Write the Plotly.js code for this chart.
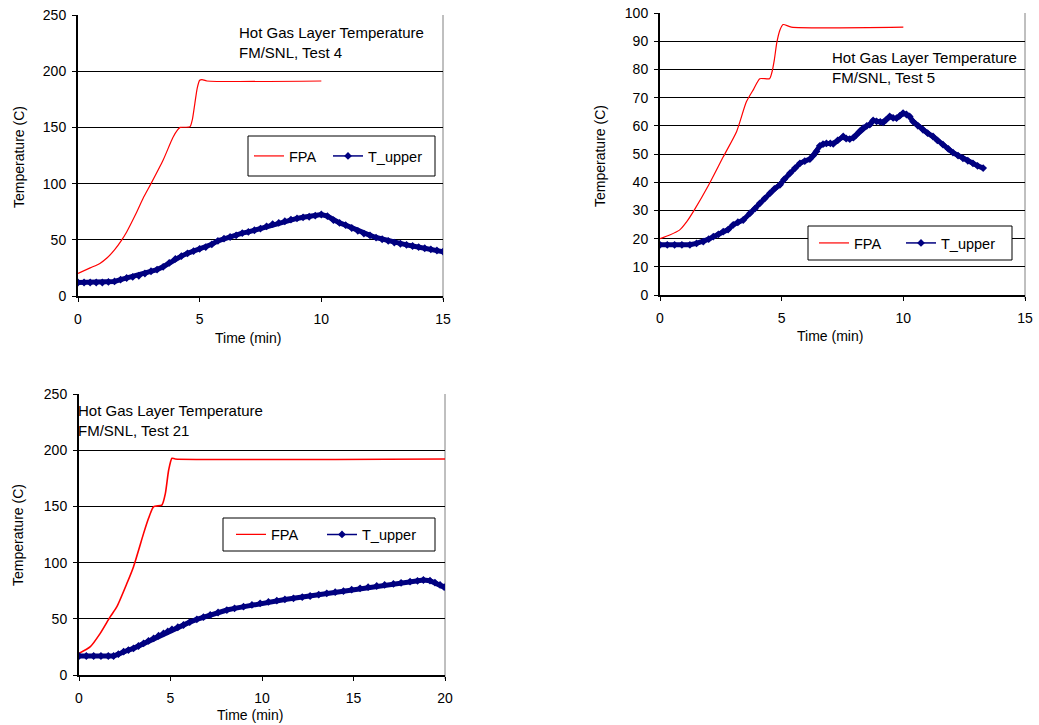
<!DOCTYPE html>
<html>
<head>
<meta charset="utf-8">
<script src="https://cdn.plot.ly/plotly-3.0.1.min.js"></script>
<style>html,body{margin:0;padding:0;background:#fff}#chart{width:1039px;height:725px}</style>
</head>
<body>
<div id="chart"></div>
<script>
// ---------- Data ----------
// Test 4
const t4_fpa = [0,0.5,0.9,1.2,1.5,1.8,2.0,2.4,2.7,3.0,3.5,3.9,4.1,4.2,4.6,4.7,4.8,4.9,5.0,5.1,5.3,10];
const T4_fpa = [20,25,29,34,41,50,57,74,88,100,121,141,148,150,150.5,157,171,185,192,192.5,191.3,191.3];
const t4_up = [0,0.25,0.5,0.75,1,1.25,1.5,1.75,2,2.25,2.5,2.75,3,3.25,3.5,3.75,4,4.25,4.5,4.75,5,5.25,5.5,5.75,6,6.25,6.5,6.75,7,7.25,7.5,7.75,8,8.25,8.5,8.75,9,9.25,9.5,9.75,10,10.25,10.5,10.75,11,11.25,11.5,11.75,12,12.25,12.5,12.75,13,13.25,13.5,13.75,14,14.25,14.5,14.75,15,15.1];
const T4_up = [12,12,12,12,12,12.5,13,14.5,16,17,18,20,22,23.5,26,29.5,33,35.5,38,40,42,43.5,46,49,51,52.5,54,56,57,58.5,60,62,64,65,66.5,68,69,70,70.5,71.5,72.5,71,67.5,65,63,60.5,58,55.5,54,52,50.5,49,47.5,46.5,45.5,44.5,43.5,42.5,41.5,40.5,39.5,39];
// Test 5
const t5_fpa = [0,0.4,0.8,1.1,1.4,2.0,2.6,3.15,3.55,3.85,4.1,4.5,4.6,4.7,4.8,4.93,5.06,5.4,10];
const T5_fpa = [20,21.3,23,26,30,39,49,58,68.5,73,76.7,76.7,79,83.5,89.5,94,95.9,95,95];
const t5_up = [0,0.3,0.6,0.9,1.23,1.5,1.78,2.0,2.19,2.4,2.6,2.8,3.01,3.2,3.42,3.7,3.9,4.1,4.3,4.52,4.7,4.93,5.1,5.34,5.55,5.75,5.95,6.16,6.3,6.43,6.57,6.7,6.84,7.0,7.12,7.3,7.53,7.65,7.8,7.95,8.07,8.2,8.35,8.5,8.62,8.76,8.9,9.05,9.17,9.3,9.44,9.58,9.72,9.85,9.99,10.13,10.26,10.4,10.6,10.81,11.0,11.22,11.4,11.63,11.85,12.04,12.25,12.45,12.65,12.86,13.05,13.28];
const T5_up = [17.8,17.8,17.8,17.8,17.8,18.3,18.9,19.8,20.7,21.5,22.5,23.2,24.9,25.8,26.6,29,30.6,32.5,34.2,36.1,37.6,39.1,41,43.2,45,46.7,47.5,48.2,49.5,50.9,52.9,53.5,53.8,53.8,53.6,54.8,56.2,55.5,55.3,55.8,56.8,58,59.2,60,60.4,61.9,61.6,61.4,61.2,62.2,63.3,62.8,62.7,63.5,64.5,64,63.3,61.5,60,58.6,57.4,56.2,54.8,53.3,51.8,50.5,49.4,48.5,47.6,46.7,45.8,45];
// Test 21
const t21_fpa = [0,0.62,1.16,1.71,2.07,2.62,2.98,3.53,3.8,4.08,4.53,4.72,4.9,5.08,5.26,20];
const T21_fpa = [19.3,25.2,37,51.9,60.8,81.6,96.4,126,139.4,149.8,151.2,161.6,182.4,192.8,192.2,192.2];
const t21_up = [0,0.4,0.8,1.2,1.6,1.89,2.15,2.44,2.7,2.98,3.25,3.53,3.8,4.08,4.35,4.62,4.85,5.08,5.4,5.71,6.05,6.44,6.8,7.17,7.6,8.08,8.5,8.99,9.45,9.9,10.35,10.81,11.25,11.72,12.2,12.63,13.1,13.54,14.0,14.45,14.9,15.36,15.8,16.27,16.7,17.18,17.6,18.09,18.5,18.82,19.18,19.45,19.73,19.95,20.18];
const T21_up = [16.9,16.9,16.9,16.9,16.9,16.9,18.5,20.8,22.2,23.7,25.8,28.2,30.4,32.6,34.9,37.1,38.8,40.6,42.5,44.5,47,49.5,51.5,53.4,55.6,57.8,59.3,60.8,62.3,63.8,65,66.1,67.2,68.2,69.3,70.3,71.5,72.7,73.7,74.7,75.9,77.1,78.1,79.2,80.1,81,82,83,83.8,84.5,83.9,82.2,80.1,78.2,76.2];

const seriesNames = ['FPA','T_upper'];
const xTitle = 'Time (min)';
const yTitle = 'Temperature (C)';
const chartTitles = ['Hot Gas Layer Temperature<br>FM/SNL, Test 4','Hot Gas Layer Temperature<br>FM/SNL, Test 5','Hot Gas Layer Temperature<br>FM/SNL, Test 21'];

// ---------- Styling ----------
const FONT = 'Liberation Sans, Arial, sans-serif';
const RED = '#ff0000', NAVY = '#000080';
const W = 1039, H = 725;
const px = v => v / W, py = v => 1 - v / H;

const panels = [
  {xd:[78,443], yd:[15,296], xr:[0,15], yr:[0,250], dy:50, t_f:t4_fpa, y_f:T4_fpa, t_u:t4_up, y_u:T4_up, leg:[248,435,136,176], legx:[249,328], title:[237,42.5], yt:[18.5,157.5], xt:[248,338]},
  {xd:[660,1025], yd:[13,295], xr:[0,15], yr:[0,100], dy:10, t_f:t5_fpa, y_f:T5_fpa, t_u:t5_up, y_u:T5_up, leg:[808,1012,226,260], legx:[814,901], title:[830,67], yt:[599.5,156.5], xt:[830,336]},
  {xd:[79,445], yd:[394,675], xr:[0,20], yr:[0,250], dy:50, t_f:t21_fpa, y_f:T21_fpa, t_u:t21_up, y_u:T21_up, leg:[223,435,518,551], legx:[231,322], title:[76,420.5], yt:[18,535], xt:[250,715]}
];

const data = [], shapes = [], annotations = [];
const layout = {
  width: W, height: H, margin:{l:0,r:0,t:0,b:0},
  paper_bgcolor:'#fff', plot_bgcolor:'#fff',
  font:{family:FONT, size:14, color:'#000'},
  showlegend:true
};

let legCount = 0;
function makeLegend(xPix, yPix) {
  legCount += 1;
  const name = legCount === 1 ? 'legend' : 'legend' + legCount;
  layout[name] = {
    x:px(xPix), y:py(yPix), xanchor:'left', yanchor:'middle',
    orientation:'h', bgcolor:'rgba(0,0,0,0)', borderwidth:0,
    font:{family:FONT, size:14.5, color:'#000'}
  };
  return name;
}

panels.forEach((p, i) => {
  const n = i === 0 ? '' : String(i + 1);
  const xa = 'x' + n, ya = 'y' + n;
  const legY = (p.leg[2] + p.leg[3]) / 2;
  data.push({x:p.t_f, y:p.y_f, xaxis:xa, yaxis:ya, type:'scatter', mode:'lines', name:seriesNames[0],
             line:{color:RED, width: i===2 ? 1.6 : 1.2, shape:'spline', smoothing:0.6}, showlegend:false, hoverinfo:'skip'});
  data.push({x:p.t_u, y:p.y_u, xaxis:xa, yaxis:ya, type:'scatter', mode:'lines+markers', name:seriesNames[1],
             line:{color:NAVY, width:5}, marker:{symbol:'diamond', size:6, color:NAVY}, showlegend:false, hoverinfo:'skip'});
  // legend entries (one legend per entry so each can be placed like the original)
  data.push({x:[null], y:[null], xaxis:xa, yaxis:ya, type:'scatter', mode:'lines', name:seriesNames[0],
             line:{color:RED, width:1.2}, legend:makeLegend(p.legx[0], legY)});
  data.push({x:[null], y:[null], xaxis:xa, yaxis:ya, type:'scatter', mode:'lines+markers', name:seriesNames[1],
             line:{color:NAVY, width:1.5}, marker:{symbol:'diamond', size:6, color:NAVY}, legend:makeLegend(p.legx[1], legY)});

  layout['xaxis' + n] = {
    domain:[px(p.xd[0]), px(p.xd[1])], anchor:ya, range:p.xr, dtick:5, tick0:0,
    showgrid:false, zeroline:false, showline:true, linecolor:'#000', linewidth:1.5,
    ticks:'outside', ticklen:4, tickcolor:'#000', tickwidth:1, ticklabelstandoff:6,
    tickfont:{family:FONT, size:14, color:'#000'}, fixedrange:true
  };
  layout['yaxis' + n] = {
    domain:[py(p.yd[1]), py(p.yd[0])], anchor:xa, range:p.yr, dtick:p.dy, tick0:0,
    showgrid:true, gridcolor:'#000', gridwidth:1, zeroline:false, showline:true, linecolor:'#000', linewidth:2,
    ticks:'outside', ticklen:4, tickcolor:'#000', tickwidth:1, ticklabelstandoff:3,
    tickfont:{family:FONT, size:14, color:'#000'}, fixedrange:true
  };
  // plot-area border (right side, grey)
  shapes.push({type:'line', xref:'paper', yref:'paper', x0:px(p.xd[1]), x1:px(p.xd[1]), y0:py(p.yd[1]+4), y1:py(p.yd[0]),
               line:{color:'#808080', width:1}, layer:'below'});
  // legend box
  shapes.push({type:'rect', xref:'paper', yref:'paper', x0:px(p.leg[0]), x1:px(p.leg[1]), y0:py(p.leg[3]), y1:py(p.leg[2]),
               line:{color:'#000', width:1}, fillcolor:'#fff', layer:'above'});
  annotations.push({text:chartTitles[i], xref:'paper', yref:'paper', x:px(p.title[0]), y:py(p.title[1]),
                    xanchor:'left', yanchor:'middle', align:'left', showarrow:false,
                    font:{family:FONT, size:15, color:'#000'}});
  annotations.push({text:yTitle, xref:'paper', yref:'paper', x:px(p.yt[0]), y:py(p.yt[1]), textangle:-90,
                    xanchor:'center', yanchor:'middle', showarrow:false, font:{family:FONT, size:14, color:'#000'}});
  annotations.push({text:xTitle, xref:'paper', yref:'paper', x:px(p.xt[0]), y:py(p.xt[1]),
                    xanchor:'center', yanchor:'middle', showarrow:false, font:{family:FONT, size:14, color:'#000'}});
});
layout.shapes = shapes;
layout.annotations = annotations;

Plotly.newPlot('chart', data, layout, {displayModeBar:false, staticPlot:true});
</script>
</body>
</html>
